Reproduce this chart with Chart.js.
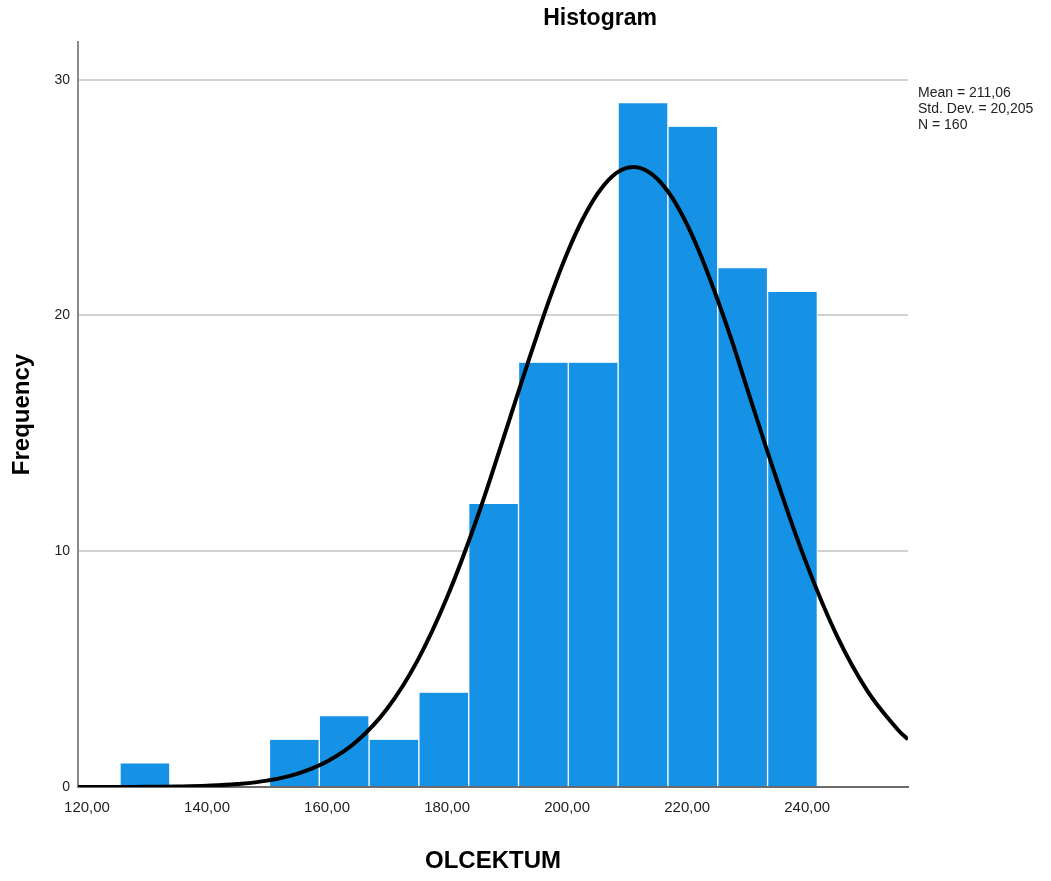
<!DOCTYPE html>
<html>
<head>
<meta charset="utf-8">
<script src="https://cdn.jsdelivr.net/npm/chart.js@4"></script>
<style>
  html, body { margin: 0; padding: 0; background: #fff; }
  #wrap { width: 1051px; height: 881px; }
</style>
</head>
<body>
<div id="wrap"><canvas id="chartHistogram" width="1051" height="881"></canvas></div>
<script>
// histogram bins (centers) and counts
const binCenters = [129.65, 137.95, 146.25, 154.55, 162.85, 171.15, 179.45, 187.75, 196.05, 204.35, 212.65, 220.95, 229.25, 237.55];
const binCounts = [1, 0, 0, 2, 3, 2, 4, 12, 18, 18, 29, 28, 22, 21];

// normal curve
const curveX = [118.5, 125, 130, 135, 140, 145, 150, 155, 160, 165, 170, 175, 180, 185, 190, 192.5, 195, 197.5, 200, 202.5, 205, 207.5, 210, 212.5, 215, 217.5, 220, 222.5, 225, 227.5, 230, 235, 240, 245, 250, 255, 256.8];
const curveY = [0, 0.003, 0.008, 0.022, 0.054, 0.125, 0.27, 0.56, 1.08, 1.95, 3.32, 5.33, 8.05, 11.41, 15.28, 17.25, 19.17, 21.0, 22.64, 24.04, 25.14, 25.9, 26.26, 26.23, 25.8, 25.0, 23.85, 22.4, 20.72, 18.89, 16.9, 12.99, 9.4, 6.39, 4.09, 2.46, 2.02];

const xTicks = [120, 140, 160, 180, 200, 220, 240];
const yTicks = [0, 10, 20, 30];

const statsLines = ["Mean = 211,06", "Std. Dev. = 20,205", "N = 160"];

const textPlugin = {
  id: "textPlugin",
  afterDraw(chart) {
    const ctx = chart.ctx;
    ctx.save();
    ctx.fillStyle = "#000";
    ctx.textAlign = "center";
    ctx.textBaseline = "middle";
    ctx.font = "bold 23px 'Liberation Sans', Arial, sans-serif";
    ctx.fillText("Histogram", 600, 19);
    ctx.textAlign = "left";
    ctx.fillStyle = "#222";
    ctx.font = "14px 'Liberation Sans Narrow', 'Liberation Sans', Arial, sans-serif";
    statsLines.forEach((s, i) => ctx.fillText(s, 918, 93 + i * 16));
    ctx.restore();
  }
};

function chartHistogram() {
  const ctx = document.getElementById("chartHistogram").getContext("2d");
  new Chart(ctx, {
    type: "bar",
    data: {
      datasets: [
        {
          type: "line",
          data: curveX.map((x, i) => ({ x: x, y: curveY[i] })),
          borderColor: "#000",
          borderWidth: 4,
          pointRadius: 0,
          tension: 0.4,
          fill: false,
          order: 0,
        },
        {
          type: "bar",
          data: binCenters.map((x, i) => ({ x: x, y: binCounts[i] })),
          backgroundColor: "#1591e6",
          borderColor: "#ffffff",
          borderWidth: { left: 1, right: 1, top: 0, bottom: 0 },
          borderSkipped: false,
          barPercentage: 1,
          categoryPercentage: 1,
          order: 1,
        },
      ],
    },
    options: {
      responsive: false,
      animation: false,
      layout: { padding: { top: 42, right: 143, left: 0, bottom: 0 } },
      plugins: { legend: { display: false }, tooltip: { enabled: false } },
      scales: {
        x: {
          type: "linear",
          min: 118.5,
          max: 256.8,
          offset: false,
          afterBuildTicks: (s) => { s.ticks = xTicks.map((v) => ({ value: v })); },
          afterFit: (s) => { s.height = 94; },
          grid: { display: false, offset: false, drawTicks: false },
          border: { color: "#6b6b6b", width: 2 },
          ticks: {
            padding: 12,
            color: "#222",
            font: { size: 15, family: "'Liberation Sans', Arial, sans-serif" },
            callback: (v) => v.toFixed(2).replace(".", ","),
            maxRotation: 0,
          },
          title: {
            display: true,
            text: "OLCEKTUM",
            color: "#000",
            font: { size: 24, weight: "bold", family: "'Liberation Sans', Arial, sans-serif" },
            padding: { bottom: 5 },
          },
        },
        y: {
          min: 0,
          max: 31.6,
          afterBuildTicks: (s) => { s.ticks = yTicks.map((v) => ({ value: v })); },
          afterFit: (s) => { s.width = 78; },
          grid: { color: "#d2d2d2", lineWidth: 2, drawTicks: false },
          border: { color: "#8a8a8a", width: 2 },
          ticks: {
            padding: 8,
            color: "#222",
            font: { size: 14, family: "'Liberation Sans', Arial, sans-serif" },
          },
          title: {
            display: true,
            text: "Frequency",
            color: "#000",
            font: { size: 24, weight: "bold", family: "'Liberation Sans', Arial, sans-serif" },
            padding: { top: 8 },
          },
        },
      },
    },
    plugins: [textPlugin],
  });
}

chartHistogram();
</script>
</body>
</html>
